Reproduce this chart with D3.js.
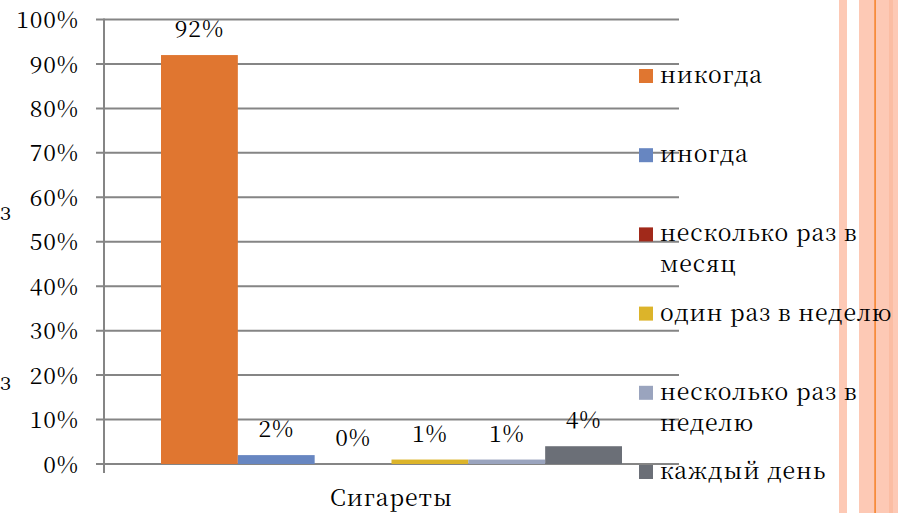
<!DOCTYPE html>
<html><head><meta charset="utf-8">
<script src="https://cdn.jsdelivr.net/npm/d3@7"></script>
<style>
html,body{margin:0;padding:0;background:#fff;}
svg{display:block;}
</style></head>
<body>
<svg id="c" width="898" height="513"></svg>
<script>
const categories = ["Сигареты"];
const series = ["никогда", "иногда", "несколько раз в месяц", "один раз в неделю", "несколько раз в неделю", "каждый день"];
const legendLines = [["никогда"], ["иногда"], ["несколько раз в", "месяц"], ["один раз в неделю"], ["несколько раз в", "неделю"], ["каждый день"]];
const values = [0.92, 0.02, 0.00, 0.01, 0.01, 0.04];
const valueLabels = ["92%", "2%", "0%", "1%", "1%", "4%"];
const colors = ["#E07630", "#6786C1", "#A1291A", "#DCB42A", "#9AA4BE", "#6B6F77"];
const yTicks = [0, 0.1, 0.2, 0.3, 0.4, 0.5, 0.6, 0.7, 0.8, 0.9, 1.0];

const FONT = '"Noto Serif CJK SC", "Liberation Serif", serif';
const FS = 23;
const LS = "0.9px";
function styleText(sel) {
  return sel.style("font-family", FONT).style("font-size", FS + "px")
    .style("letter-spacing", LS).style("fill", "#000");
}

const svg = d3.select("#c");

// decorative stripes on the right (slide background)
const stripes = svg.append("g");
stripes.append("rect").attr("x", 839).attr("y", 0).attr("width", 8).attr("height", 513).attr("fill", "#FDC9B5");
stripes.append("rect").attr("x", 859).attr("y", 0).attr("width", 39).attr("height", 513).attr("fill", "#FDC9B5");
stripes.append("rect").attr("x", 889).attr("y", 0).attr("width", 4).attr("height", 513).attr("fill", "#FBBDA3");
stripes.append("rect").attr("x", 874.3).attr("y", 0).attr("width", 1.6).attr("height", 513).attr("fill", "#F5852F");

// cut-off text fragments at left
styleText(svg.append("text").attr("x", 0).attr("y", 220).text("з"));
styleText(svg.append("text").attr("x", 0).attr("y", 390).text("з"));

const y = d3.scaleLinear().domain([0, 1]).range([464, 19.5]);
const x0 = d3.scaleBand().domain(categories).range([104, 679]);
const x1 = d3.scaleBand().domain(series).range([0, x0.bandwidth()]).paddingInner(0).paddingOuter(0.742);

// gridlines
const grid = svg.append("g");
grid.selectAll("line").data(yTicks).join("line")
  .attr("x1", 96).attr("x2", 679)
  .attr("y1", d => y(d)).attr("y2", d => y(d))
  .attr("stroke", "#858585").attr("stroke-width", 2);

// y axis
const yAxis = svg.append("g").attr("transform", "translate(104,0)")
  .call(d3.axisLeft(y).tickValues(yTicks).tickFormat(d3.format(".0%")).tickSize(0).tickPadding(25));
yAxis.select(".domain").remove();
styleText(yAxis.selectAll("text")).attr("dy", "0.35em");
svg.append("line").attr("x1", 104).attr("x2", 104).attr("y1", y(1) - 1).attr("y2", 473)
  .attr("stroke", "#858585").attr("stroke-width", 2);

// bars
const g = svg.append("g");
categories.forEach(cat => {
  const data = series.map((s, i) => ({s, v: values[i], c: colors[i], l: valueLabels[i]}));
  g.selectAll("rect.bar").data(data).join("rect")
    .attr("class", "bar")
    .attr("x", d => x0(cat) + x1(d.s))
    .attr("width", x1.bandwidth())
    .attr("y", d => y(d.v))
    .attr("height", d => y(0) - y(d.v))
    .attr("fill", d => d.c);
  styleText(g.selectAll("text.lbl").data(data).join("text")
    .attr("class", "lbl")
    .attr("x", d => x0(cat) + x1(d.s) + x1.bandwidth() / 2)
    .attr("y", d => y(d.v) - 18)
    .attr("text-anchor", "middle")
    .text(d => d.l));
});

// x axis label
styleText(svg.append("text").attr("x", x0("Сигареты") + x0.bandwidth() / 2).attr("y", 506)
  .attr("text-anchor", "middle").text("Сигареты"));

// legend
const ly = d3.scalePoint().domain(series).range([76, 472]);
const lg = svg.append("g");
series.forEach((s, i) => {
  const cy = ly(s);
  lg.append("rect").attr("x", 639).attr("y", cy - 7).attr("width", 14).attr("height", 14).attr("fill", colors[i]);
  legendLines[i].forEach((t, j) => {
    styleText(lg.append("text").attr("x", 660).attr("y", cy + 7 + j * 31).text(t));
  });
});
</script>
</body></html>
